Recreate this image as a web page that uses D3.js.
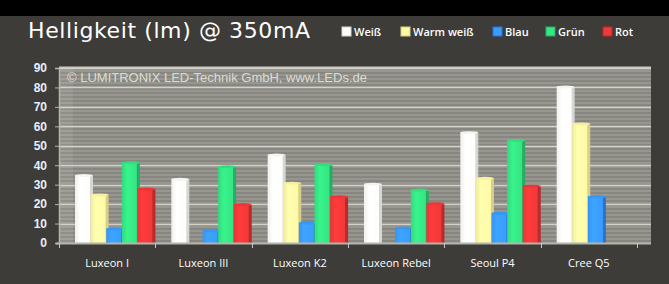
<!DOCTYPE html>
<html>
<head>
<meta charset="utf-8">
<script src="https://cdn.jsdelivr.net/npm/d3@7"></script>
<style>
  body { margin: 0; background: #3d3c38; }
  svg { display: block; }
</style>
</head>
<body>
<div id="chart"></div>
<script>
var categories = ["Luxeon I", "Luxeon III", "Luxeon K2", "Luxeon Rebel", "Seoul P4", "Cree Q5"];
var seriesNames = ["Weiß", "Warm weiß", "Blau", "Grün", "Rot"];
var weiss     = [35, 33, 45.5, 30.5, 57, 80.5];
var warmWeiss = [25, 0, 31, 0, 33.5, 61.5];
var blau      = [7.5, 6.5, 10.5, 8, 15.5, 24];
var gruen     = [41.5, 39.5, 40.5, 27.5, 53, 0];
var rot       = [28, 20, 24, 20.5, 29.5, 0];
var yTicks = [0, 10, 20, 30, 40, 50, 60, 70, 80, 90];

var faceColors = ["#fdfdfb", "#fff9a6", "#3a9cff", "#35e684", "#f23838"];
var sideColors = ["#d6d6d2", "#d8d08a", "#2a72cf", "#27ad62", "#b92a2a"];

var seriesValues = [weiss, warmWeiss, blau, gruen, rot];

var W = 669, H = 284;
var plot = {left: 59, right: 651, top: 67, bottom: 243};
var axisRight = 637;

var svg = d3.select("#chart").append("svg")
    .attr("width", W)
    .attr("height", H);

var defs = svg.append("defs");

// striped texture of the chart wall
var pat = defs.append("pattern")
    .attr("id", "stripes")
    .attr("patternUnits", "userSpaceOnUse")
    .attr("width", 8).attr("height", 4);
pat.append("rect").attr("width", 8).attr("height", 4).attr("fill", "#878680");
pat.append("rect").attr("y", 2).attr("width", 8).attr("height", 2).attr("fill", "#97968f");

// gradients for the bar faces
faceColors.forEach(function(c, i) {
  var g = defs.append("linearGradient")
      .attr("id", "grad" + i)
      .attr("x1", "0%").attr("x2", "100%");
  g.append("stop").attr("offset", "0%").attr("stop-color", d3.rgb(c).darker(0.15));
  g.append("stop").attr("offset", "35%").attr("stop-color", d3.rgb(c).brighter(0.15));
  g.append("stop").attr("offset", "100%").attr("stop-color", c);
});

// top black band
svg.append("rect")
    .attr("width", W).attr("height", 16)
    .attr("fill", "#000");

var x0 = d3.scaleBand()
    .domain(categories)
    .range([plot.left, axisRight]);

var x1 = d3.scaleBand()
    .domain(seriesNames)
    .range([16, 94]);

var y = d3.scaleLinear()
    .domain([0, 90])
    .range([plot.bottom, plot.top + 1]);

// chart wall
svg.append("rect")
    .attr("x", plot.left).attr("y", plot.top)
    .attr("width", plot.right - plot.left)
    .attr("height", plot.bottom - plot.top)
    .attr("fill", "url(#stripes)");

// side wall slightly lighter
svg.append("rect")
    .attr("x", plot.left).attr("y", plot.top)
    .attr("width", 14)
    .attr("height", plot.bottom - plot.top)
    .attr("fill", "#fff").attr("opacity", 0.08);

// top border
svg.append("line")
    .attr("x1", plot.left).attr("x2", plot.right)
    .attr("y1", plot.top + 0.5).attr("y2", plot.top + 0.5)
    .attr("stroke", "#c9c8c1").attr("stroke-width", 2);

// gridlines
svg.append("g")
  .selectAll("line")
  .data(yTicks.slice(1))
  .enter().append("line")
    .attr("x1", plot.left).attr("x2", plot.right)
    .attr("y1", function(d) { return Math.round(y(d)) + 0.5; })
    .attr("y2", function(d) { return Math.round(y(d)) + 0.5; })
    .attr("stroke", "#d2d1ca").attr("stroke-width", 1.5);

// watermark
svg.append("text")
    .attr("x", 67).attr("y", 82)
    .attr("fill", "#dcdcd4")
    .style("font-family", "'Liberation Sans', Arial, sans-serif")
    .style("font-size", "13px")
    .text("© LUMITRONIX LED-Technik GmbH, www.LEDs.de");

// bars
var barW = 15, sideW = 3;
var slice = svg.selectAll(".slice")
    .data(categories)
  .enter().append("g")
    .attr("class", "slice")
    .attr("transform", function(d) { return "translate(" + x0(d) + ",0)"; });

slice.selectAll("g.bar")
    .data(function(d, ci) {
      return seriesNames.map(function(s, si) {
        return {series: s, si: si, value: seriesValues[si][ci]};
      }).filter(function(d) { return d.value > 0; });
    })
  .enter().append("g")
    .attr("class", "bar")
    .each(function(d) {
      var g = d3.select(this);
      var bx = x1(d.series);
      var top = y(d.value);
      // side
      g.append("rect")
          .attr("x", bx + barW - 1).attr("y", top + 1)
          .attr("width", sideW + 1).attr("height", plot.bottom - top - 1)
          .attr("fill", sideColors[d.si]);
      // face
      g.append("rect")
          .attr("x", bx).attr("y", top)
          .attr("width", barW).attr("height", plot.bottom - top)
          .attr("fill", "url(#grad" + d.si + ")");
      // rounded top
      g.append("ellipse")
          .attr("cx", bx + (barW + sideW) / 2).attr("cy", top + 0.5)
          .attr("rx", (barW + sideW) / 2).attr("ry", 1.5)
          .attr("fill", d3.rgb(faceColors[d.si]).darker(0.1));
    });

// floor line and x axis ticks
var xAxis = d3.axisBottom(x0).tickSize(0).tickPadding(16);
var xg = svg.append("g")
    .attr("transform", "translate(0," + plot.bottom + ")")
    .call(xAxis);
xg.select(".domain").remove();
xg.selectAll("text")
    .attr("fill", "#ffffff")
    .style("font-family", "'Open Sans', 'DejaVu Sans', sans-serif")
    .style("font-size", "11px");

svg.append("line")
    .attr("x1", plot.left - 3).attr("x2", plot.right)
    .attr("y1", plot.bottom + 0.5).attr("y2", plot.bottom + 0.5)
    .attr("stroke", "#b5b4ad").attr("stroke-width", 2);

var bounds = categories.map(function(c) { return x0(c); }).concat([axisRight]);
svg.append("g").selectAll("line")
    .data(bounds)
  .enter().append("line")
    .attr("x1", function(d) { return Math.round(d) + 0.5; })
    .attr("x2", function(d) { return Math.round(d) + 0.5; })
    .attr("y1", plot.bottom).attr("y2", plot.bottom + 5)
    .attr("stroke", "#c8c7c0");

// y axis
var yAxis = d3.axisLeft(y).tickValues(yTicks).tickSize(4).tickPadding(8);
var yg = svg.append("g")
    .attr("transform", "translate(" + plot.left + ",0)")
    .call(yAxis);
yg.select(".domain").attr("stroke", "#b5b4ad").attr("stroke-width", 1.5);
yg.selectAll(".tick line").attr("stroke", "#b5b4ad");
yg.selectAll("text")
    .attr("fill", "#e6efff")
    .style("font-family", "'Liberation Sans', Arial, sans-serif")
    .style("font-size", "12px")
    .style("font-weight", "bold");

// title
svg.append("text")
    .attr("x", 28).attr("y", 38)
    .attr("fill", "#ffffff")
    .style("font-family", "'DejaVu Sans', Verdana, sans-serif")
    .style("font-size", "22px")
    .style("letter-spacing", "0.6px")
    .text("Helligkeit (lm) @ 350mA");

// legend
var legendX = [342, 401, 493, 546, 603];
var legend = svg.selectAll(".legend")
    .data(seriesNames)
  .enter().append("g")
    .attr("class", "legend")
    .attr("transform", function(d, i) { return "translate(" + legendX[i] + ",27)"; });

legend.append("rect")
    .attr("width", 9).attr("height", 9)
    .attr("fill", function(d, i) { return faceColors[i]; })
    .attr("stroke", function(d, i) { return sideColors[i]; });

legend.append("text")
    .attr("x", 12).attr("y", 9)
    .attr("fill", "#ffffff")
    .style("font-family", "'Open Sans', 'DejaVu Sans', sans-serif")
    .style("font-size", "11px")
    .style("font-weight", "600")
    .text(function(d) { return d; });
</script>
</body>
</html>
